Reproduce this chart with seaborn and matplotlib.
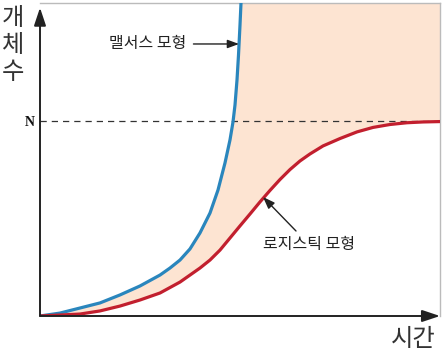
import matplotlib
matplotlib.use("Agg")
import matplotlib.pyplot as plt
import seaborn as sns
import numpy as np
import pandas as pd

# Data
malthus_x = [0, 0.5, 1.0, 1.5, 2.0, 2.5, 3.0, 3.25, 3.5, 3.75, 4.0, 4.25, 4.45, 4.625, 4.75,
             4.825, 4.875, 4.925, 4.9625, 5.0, 5.025, 5.05]
malthus_y = [0, 1.5, 4.1, 6.7, 10.8, 15.4, 21.0, 24.6, 28.7, 34.4, 42.6, 52.8, 64.6, 78.5, 90.3,
             99.5, 108.2, 121.0, 133.8, 149.2, 160.5, 172.0]
logistic_x = [0, 0.5, 1.0, 1.5, 2.0, 2.5, 3.0, 3.5, 3.75, 4.0, 4.25, 4.5, 4.75, 5.0, 5.25,
              5.5, 5.75, 6.0, 6.25, 6.5, 6.75, 7.075, 7.5, 7.925, 8.325, 8.75, 9.175, 9.575, 10.0]
logistic_y = [0, 0.5, 1.0, 2.6, 5.1, 8.2, 11.8, 17.4, 21.0, 24.6, 28.7, 33.8, 40.0, 46.2, 52.3,
              58.5, 64.4, 70.0, 75.1, 79.5, 83.1, 87.2, 91.0, 94.4, 96.7, 98.2, 99.1, 99.5, 99.7]
N_value = 100
x_max, y_max = 10, 160.5

sns.set_theme(style="white")
plt.rcParams['font.family'] = ['Noto Sans CJK KR', 'DejaVu Sans']

fig = plt.figure(figsize=(4.45, 3.55), dpi=100)
ax = fig.add_axes([40/445, 39/355, 400/445, 313/355])

df_m = pd.DataFrame({"x": malthus_x, "y": malthus_y})
df_l = pd.DataFrame({"x": logistic_x, "y": logistic_y})

# fill between curves (region right of Malthus, above logistic)
poly_x = list(malthus_x) + [malthus_x[-1], x_max, x_max] + list(logistic_x[::-1])
poly_y = list(malthus_y) + [y_max * 2, y_max * 2, logistic_y[-1]] + list(logistic_y[::-1])
ax.fill(poly_x, poly_y, color="#fde4d2", lw=0, zorder=1)

ax.axhline(N_value, color="#333333", lw=0.9, ls=(0, (5, 4)), zorder=2)

sns.lineplot(data=df_m, x="x", y="y", ax=ax, color="#2a86bd", lw=2.3, zorder=3, sort=False)
sns.lineplot(data=df_l, x="x", y="y", ax=ax, color="#c21f2e", lw=2.3, zorder=3, sort=False)
for ln in ax.lines:
    ln.set_solid_joinstyle("round")
    ln.set_solid_capstyle("round")

ax.set_xlim(0, x_max)
ax.set_ylim(0, y_max)
ax.set_xticks([])
ax.set_yticks([])
ax.set_xlabel("")
ax.set_ylabel("")
for s in ["top", "right"]:
    ax.spines[s].set_color("#bbbbbb")
    ax.spines[s].set_linewidth(1.0)
for s in ["left", "bottom"]:
    ax.spines[s].set_visible(False)

# axis arrows
ax.annotate("", xy=(0, 0.985), xytext=(0, 0), xycoords="axes fraction",
            arrowprops=dict(arrowstyle="-|>,head_length=0.9,head_width=0.3", color="#222222", lw=1.4,
                            shrinkA=0, shrinkB=0), zorder=5, annotation_clip=False)
ax.annotate("", xy=(1.0, 0), xytext=(0, 0), xycoords="axes fraction",
            arrowprops=dict(arrowstyle="-|>,head_length=0.9,head_width=0.3", color="#222222", lw=1.4,
                            shrinkA=0, shrinkB=0), zorder=5, annotation_clip=False)

# y label stacked
for ch, yy in zip("개체수", [18, 45, 72]):
    fig.text(13/445, 1 - yy/355, ch, fontsize=17.5, color="#333333", ha="center", va="center")
fig.text(30/445, 1 - 122/355, "N", fontsize=10, fontweight="bold", family="Liberation Serif",
         color="#111111", ha="center", va="center")
fig.text(413/445, 1 - 339/355, "시간", fontsize=17.5, color="#333333", ha="center", va="center")

def px2data(px, py):
    return ((px - 40) / 40.0, (316 - py) / 1.95)

ax.annotate("맬서스 모형", xy=px2data(239, 44), xytext=px2data(186, 44),
            fontsize=11.5, color="#222222", ha="right", va="center",
            arrowprops=dict(arrowstyle="-|>,head_length=0.6,head_width=0.22", color="#222222", lw=1.0,
                            shrinkA=3, shrinkB=0))
ax.annotate("", xy=px2data(263, 197), xytext=px2data(296, 231),
            arrowprops=dict(arrowstyle="-|>,head_length=0.6,head_width=0.22", color="#222222", lw=1.0,
                            shrinkA=0, shrinkB=0))
ax.text(*px2data(309, 245), "로지스틱 모형", fontsize=11.5, color="#222222", ha="center", va="center")

fig.savefig("out.png", dpi=100)
